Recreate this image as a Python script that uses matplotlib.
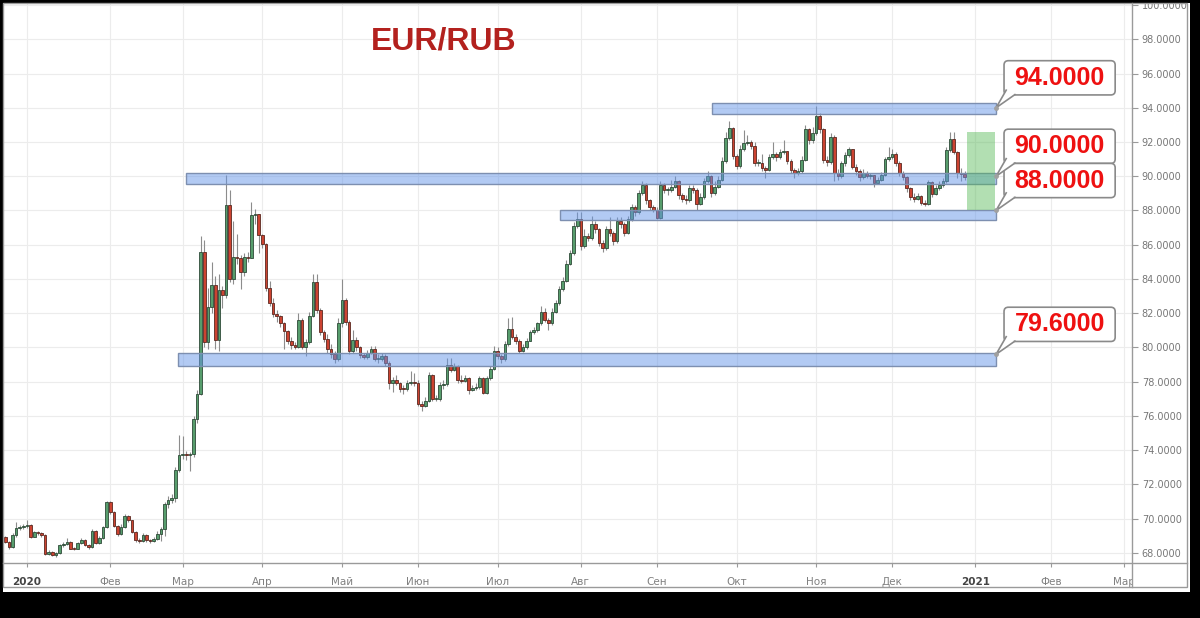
import numpy as np
import matplotlib.pyplot as plt
from matplotlib.patches import Rectangle, FancyBboxPatch, Polygon
from matplotlib.lines import Line2D
from matplotlib.transforms import Bbox, TransformedBbox

# EUR/RUB daily candles, late Dec 2019 .. 29 Dec 2020 (bar 0 = 1 Jan 2020)
first_open = 68.90
closes = [
    68.64, 68.35, 69.03, 69.45, 69.50, 69.55,  # Dec 2019
    69.65, 68.93, 69.20, 69.15, 69.05, 67.95, 68.05, 67.88, 68.00, 68.44, 68.50, 68.64,
    68.25, 68.22, 68.55, 68.75, 68.45, 68.35, 69.30, 68.55, 68.85, 69.50, 70.97,  # Jan
    70.40, 69.60, 69.12, 69.50, 70.14, 69.90, 69.22, 68.74, 68.70, 69.03, 68.74, 68.70,
    68.83, 69.12, 69.40, 70.88, 71.07, 71.23, 72.82, 73.70,  # Feb
    73.80, 73.70, 73.75, 75.84, 77.30, 85.58, 80.32, 82.37, 83.63, 80.42, 83.34, 83.05,
    88.30, 84.02, 85.30, 85.20, 84.40, 85.30, 85.25, 87.72, 87.80, 86.55,  # Mar
    86.05, 83.50, 82.60, 81.96, 81.85, 81.40, 80.95, 80.40, 80.17, 80.02, 81.60, 80.00,
    80.30, 81.86, 83.80, 82.16, 80.90, 80.50, 79.92, 79.60, 79.30, 81.40,  # Apr
    82.80, 81.50, 79.80, 80.45, 80.00, 79.55, 79.45, 79.70, 79.90, 79.30, 79.35, 79.50,
    79.10, 77.90, 78.10, 77.95, 77.60, 77.55, 77.90, 78.00, 77.95,  # May
    76.72, 76.60, 76.90, 78.40, 77.00, 77.00, 77.80, 77.85, 79.00, 78.70, 78.90, 78.10,
    78.05, 78.20, 77.50, 77.65, 77.70, 78.20, 77.35, 78.20, 78.75, 79.80,  # Jun
    79.50, 79.30, 80.20, 81.10, 80.60, 80.40, 79.80, 80.00, 80.40, 80.90, 81.00, 81.40,
    82.10, 81.60, 81.40, 82.10, 82.60, 83.40, 83.90, 84.90, 85.50, 87.10, 87.50,  # Jul
    85.90, 86.50, 86.40, 87.20, 86.90, 86.10, 85.80, 86.90, 86.70, 86.20, 87.40, 87.20,
    86.70, 87.50, 88.20, 87.90, 89.00, 89.50, 88.60, 88.20, 88.05,  # Aug
    87.55, 89.50, 89.20, 89.20, 89.40, 89.70, 88.90, 88.70, 88.60, 89.30, 89.20, 88.40,
    88.80, 89.70, 90.00, 89.00, 89.40, 89.80, 90.90, 92.25, 92.80, 91.20,  # Sep
    90.60, 91.60, 91.95, 92.00, 91.75, 90.80, 90.80, 90.46, 90.36, 91.10, 91.30, 91.12,
    91.40, 91.45, 90.90, 90.36, 90.20, 90.30, 90.95, 92.74, 92.11, 92.50,  # Oct
    93.50, 92.74, 90.95, 90.85, 92.30, 90.17, 90.00, 90.75, 91.24, 91.57, 90.55, 90.32,
    89.95, 90.20, 90.00, 90.07, 89.62, 89.80, 90.10, 90.99, 91.15,  # Nov
    91.30, 90.79, 90.20, 89.93, 89.29, 88.77, 88.70, 88.85, 88.42, 88.38, 89.68, 88.96,
    89.29, 89.50, 89.70, 91.53, 92.15, 91.43, 90.20, 90.15, 89.97,  # Dec
]
highs = [
    69.00, 68.70, 69.15, 69.80, 69.62, 69.70,
    69.90, 69.70, 69.30, 69.30, 69.20, 69.10, 68.15, 68.10, 68.05, 68.50, 68.62, 68.85,
    68.70, 68.35, 68.65, 68.85, 68.80, 68.50, 69.40, 69.35, 69.00, 69.60, 71.05,
    71.05, 70.45, 69.65, 69.70, 70.30, 70.20, 69.95, 69.25, 68.85, 69.15, 69.10, 68.80,
    68.95, 69.25, 69.50, 71.00, 71.30, 71.45, 73.00, 74.90,
    74.80, 73.95, 73.90, 76.00, 77.50, 86.50, 86.30, 83.50, 85.00, 84.20, 84.30, 83.60,
    90.05, 89.20, 87.40, 86.60, 85.40, 85.50, 85.60, 88.50, 88.10, 87.80,
    86.60, 86.10, 83.90, 82.90, 82.20, 81.90, 81.50, 81.00, 80.60, 80.30, 82.00, 81.70,
    80.50, 82.10, 84.30, 84.30, 82.30, 81.00, 80.80, 80.20, 79.80, 81.70,
    84.00, 82.90, 81.60, 81.00, 80.60, 80.10, 79.70, 79.85, 80.10, 80.10, 79.60, 79.70,
    79.60, 79.20, 78.30, 78.40, 78.00, 77.80, 78.10, 78.60, 78.50,
    78.10, 76.90, 77.10, 78.55, 78.45, 77.20, 78.00, 78.10, 79.40, 79.40, 79.10, 78.95,
    78.40, 78.40, 78.25, 77.80, 77.90, 78.35, 78.25, 78.35, 78.90, 80.10,
    80.00, 79.60, 80.40, 81.70, 81.80, 80.80, 80.50, 80.20, 80.55, 81.00, 81.20, 81.50,
    82.40, 82.30, 81.70, 82.30, 82.80, 83.60, 84.10, 85.10, 85.70, 87.30, 87.90,
    87.90, 86.90, 86.70, 87.70, 87.40, 87.00, 86.30, 87.10, 87.60, 86.80, 87.60, 87.60,
    87.30, 87.70, 88.40, 88.30, 89.20, 89.70, 89.60, 88.70, 88.30,
    88.20, 89.70, 89.60, 89.40, 89.80, 90.00, 89.80, 89.00, 88.90, 89.50, 89.50, 89.30,
    89.00, 89.90, 90.30, 90.10, 89.70, 90.00, 91.10, 92.60, 93.20, 92.90,
    91.30, 91.80, 92.70, 92.40, 92.10, 92.00, 91.00, 91.30, 90.60, 91.30, 92.00, 91.40,
    91.60, 92.10, 91.50, 91.00, 90.50, 90.50, 91.20, 93.00, 92.80, 92.90,
    94.10, 93.70, 92.80, 91.20, 92.50, 92.40, 90.40, 90.90, 91.40, 91.70, 91.60, 90.70,
    90.40, 90.40, 90.30, 90.20, 90.10, 89.95, 90.25, 91.10, 91.70,
    91.60, 91.40, 90.90, 90.30, 90.00, 89.40, 89.00, 89.00, 88.90, 88.60, 89.80, 89.75,
    89.50, 89.70, 89.90, 91.70, 92.60, 92.60, 91.50, 90.50, 90.30,
]
lows = [
    68.55, 68.25, 68.30, 68.95, 69.35, 69.40,
    69.45, 68.85, 68.90, 69.05, 68.95, 67.90, 67.85, 67.80, 67.75, 67.95, 68.35, 68.45,
    68.20, 68.15, 68.20, 68.50, 68.40, 68.25, 68.30, 68.50, 68.50, 68.80, 69.45,
    70.30, 69.50, 69.00, 69.05, 69.45, 69.80, 69.15, 68.65, 68.60, 68.65, 68.65, 68.60,
    68.65, 68.75, 68.70, 69.00, 70.60, 70.90, 71.00, 72.70,
    73.50, 73.40, 72.80, 73.60, 75.60, 77.20, 80.00, 79.90, 82.00, 79.90, 79.80, 82.30,
    82.90, 83.80, 83.70, 84.90, 83.40, 84.20, 85.00, 85.20, 87.20, 85.50,
    85.80, 83.30, 82.40, 81.80, 81.50, 81.20, 79.90, 80.20, 79.90, 79.90, 79.95, 79.90,
    79.50, 80.20, 81.80, 82.00, 80.70, 80.30, 79.70, 79.40, 79.10, 79.20,
    81.20, 81.30, 79.60, 79.70, 79.80, 79.40, 79.30, 79.35, 79.60, 79.20, 79.10, 79.20,
    78.90, 77.60, 77.40, 77.80, 77.40, 77.30, 77.45, 77.80, 77.75,
    76.60, 76.30, 76.50, 76.80, 76.90, 76.85, 76.90, 77.60, 77.75, 78.55, 78.60, 77.95,
    77.90, 78.00, 77.30, 77.45, 77.50, 77.60, 77.30, 77.30, 78.10, 78.70,
    79.30, 79.10, 79.20, 80.10, 80.50, 80.20, 79.70, 79.75, 79.90, 80.35, 80.80, 80.90,
    81.30, 81.50, 81.00, 81.30, 82.00, 82.50, 83.30, 83.80, 84.80, 85.40, 87.00,
    85.70, 85.80, 86.20, 86.30, 86.70, 85.90, 85.60, 85.70, 86.50, 86.00, 86.10, 87.00,
    86.50, 86.60, 87.40, 87.70, 87.80, 88.90, 88.40, 88.00, 87.90,
    87.50, 87.50, 89.00, 88.90, 89.10, 89.30, 88.70, 88.50, 88.40, 88.50, 89.00, 88.00,
    88.30, 88.70, 89.60, 88.80, 88.90, 89.30, 89.70, 90.80, 92.10, 91.00,
    90.40, 90.50, 91.50, 91.80, 91.60, 90.60, 90.60, 90.30, 89.90, 90.30, 91.00, 90.90,
    91.00, 91.30, 90.70, 90.20, 89.90, 90.05, 90.20, 90.90, 91.90, 91.95,
    92.40, 92.50, 90.80, 90.60, 90.70, 89.70, 89.80, 89.90, 90.60, 91.10, 90.40, 90.10,
    89.70, 89.85, 89.90, 89.85, 89.40, 89.55, 89.70, 90.00, 90.90,
    91.00, 90.60, 90.00, 89.80, 89.10, 88.60, 88.50, 88.60, 88.30, 88.25, 88.30, 88.80,
    88.90, 89.20, 89.40, 89.60, 91.40, 91.30, 89.90, 89.70, 89.80,
]
first_bar = -6

month_pos = [0, 23, 43, 65, 87, 108, 130, 153, 174, 196, 218, 239, 262, 283, 303]
month_labels = ['2020', 'Фев', 'Мар', 'Апр', 'Май', 'Июн', 'Июл', 'Авг',
                'Сен', 'Окт', 'Ноя', 'Дек', '2021', 'Фев', 'Мар']

# support / resistance levels with their bands
levels = [94.0, 90.0, 88.0, 79.6]
band_start = [189.2, 43.9, 147.2, 41.7]
band_top = [94.30, 90.20, 88.05, 79.67]
band_bot = [93.63, 89.55, 87.42, 78.92]
band_end = 267.7
zone = (259.7, 267.4, 88.0, 92.6)  # green target zone: x0, x1, y0, y1

W, H = 1200, 618
fig = plt.figure(figsize=(W / 100, H / 100), dpi=100, facecolor='black')
fig.patches.append(Rectangle((3 / W, 26 / H), 1187 / W, 589 / H, transform=fig.transFigure,
                             fc='white', ec='none', zorder=-10))
fig.patches.append(Rectangle((3 / W, (H - 587) / H), 1184 / W, 584 / H, transform=fig.transFigure,
                             fill=False, ec='#9a9a9a', lw=1, zorder=5))
fig.lines.append(Line2D([1132 / W, 1132 / W], [(H - 587) / H, (H - 3) / H],
                        transform=fig.transFigure, color='#9a9a9a', lw=1))
fig.lines.append(Line2D([3 / W, 1187 / W], [(H - 563) / H, (H - 563) / H],
                        transform=fig.transFigure, color='#9a9a9a', lw=1))

ax = fig.add_axes([3 / W, (H - 563) / H, 1129 / W, 560 / H])
ax.set_facecolor('none')
ax.set_xlim(-6.63, 305.25)
ax.set_ylim(67.41, 100.12)
for s in ax.spines.values():
    s.set_visible(False)

# candles
c = np.array(closes)
h = np.array(highs)
l = np.array(lows)
o = np.concatenate([[first_open], c[:-1]])
x = np.arange(len(c)) + first_bar
up = c >= o
body_lo = np.minimum(o, c)
body_h = np.maximum(np.abs(c - o), 0.06)
ax.vlines(x, l, h, color='#8c8c8c', lw=0.8, zorder=2)
ax.bar(x[up], body_h[up], bottom=body_lo[up], width=0.72, color='#579d6c',
       edgecolor='#2e4a38', linewidth=0.6, zorder=3)
ax.bar(x[~up], body_h[~up], bottom=body_lo[~up], width=0.72, color='#cc4331',
       edgecolor='#5a2820', linewidth=0.6, zorder=3)

# bands
for x0, top, bot in zip(band_start, band_top, band_bot):
    ax.add_patch(Rectangle((x0, bot), band_end - x0, top - bot, fc=(0.40, 0.59, 0.91, 0.5),
                           ec='#7d8fb0', lw=1, zorder=4))

ax.add_patch(Rectangle((zone[0], zone[2]), zone[1] - zone[0], zone[3] - zone[2],
                       fc=(0.33, 0.72, 0.33, 0.45), ec='none', zorder=4))

# callouts
box_left, box_w, box_h = 269.9, 30.7, 2.0
asp = (560 / (100.12 - 67.41)) / (1129 / (305.25 + 6.63))
for lv in levels:
    b0 = lv + 0.75
    ax.add_patch(FancyBboxPatch((box_left, b0), box_w, box_h,
                                boxstyle='round,pad=0,rounding_size=1.2',
                                mutation_aspect=1 / asp, fc='white', ec='#8a8a8a',
                                lw=1.2, zorder=6))
    tail = [(box_left + 0.6, b0 + 0.28), (box_left + 3.0, b0 + 0.02), (band_end, lv)]
    ax.add_patch(Polygon(tail, closed=True, fc='white', ec='none', zorder=7))
    ax.plot([tail[0][0], band_end, tail[1][0]], [tail[0][1], lv, tail[1][1]],
            color='#8a8a8a', lw=1.2, zorder=7, solid_joinstyle='miter')
    ax.plot(band_end, lv, 'o', ms=2.5, color='#a0a0a0', zorder=8)
    ax.text(box_left + box_w / 2, b0 + box_h / 2, f'{lv:.4f}', ha='center', va='center',
            color='#ee1111', fontsize=18, fontweight='bold', family='Liberation Sans', zorder=9)

# grid and ticks
ax.set_yticks(np.arange(68, 101, 2))
ax.yaxis.set_major_formatter(lambda v, p: f'{v:.4f}')
ax.yaxis.tick_right()
ax.set_xticks(month_pos, month_labels)
ax.grid(True, color='#ececec', lw=0.8, zorder=0)
ax.set_axisbelow(True)
ax.tick_params(axis='y', length=4, color='#9a9a9a', labelsize=7, labelcolor='#777777', pad=3)
ax.tick_params(axis='x', length=3, color='#9a9a9a', labelsize=7.5, labelcolor='#808080', pad=7)

xclip = TransformedBbox(Bbox.from_extents(3 / W, 31 / H, 1132 / W, (H - 3) / H), fig.transFigure)
yclip = TransformedBbox(Bbox.from_extents(1132 / W, 31 / H, 1187 / W, (H - 3) / H), fig.transFigure)
for lbl in ax.get_xticklabels():
    lbl.set_clip_box(xclip)
    lbl.set_clip_on(True)
    if lbl.get_text().isdigit():
        lbl.set_fontweight('bold')
        lbl.set_color('#444444')
for lbl in ax.get_yticklabels():
    lbl.set_clip_box(yclip)
    lbl.set_clip_on(True)

fig.text(444 / W, 1 - 41.7 / H, 'EUR/RUB', ha='center', va='center', color='#b3211e',
         fontsize=23, fontweight='bold', family='Liberation Sans')

fig.savefig('out.png', dpi=100, facecolor=fig.get_facecolor())
